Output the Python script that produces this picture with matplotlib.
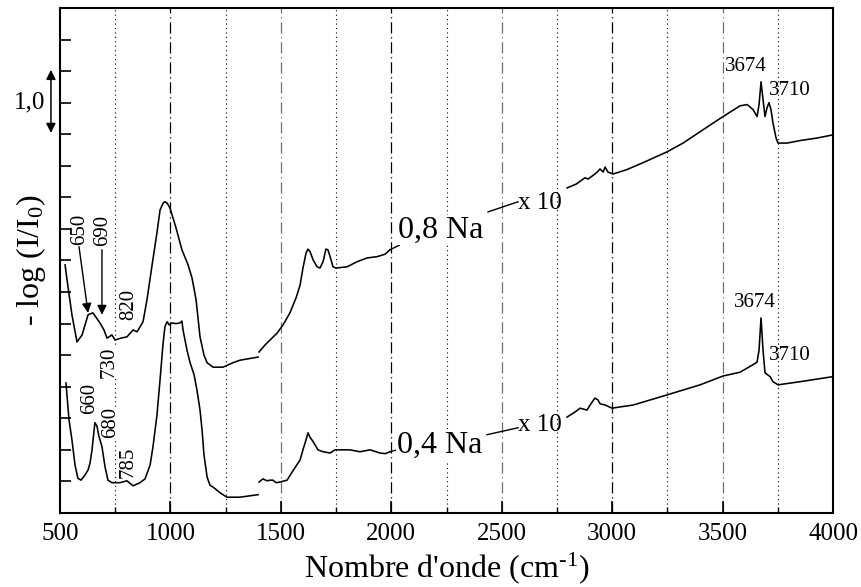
import numpy as np
import matplotlib
matplotlib.use('Agg')
import matplotlib.pyplot as plt

plt.rcParams['font.family'] = ['Liberation Serif', 'DejaVu Serif']
plt.rcParams['mathtext.fontset'] = 'custom'
plt.rcParams['mathtext.rm'] = 'Liberation Serif'
plt.rcParams['mathtext.it'] = 'Liberation Serif:italic'

# --- 0,8 Na (upper spectrum), three pieces ---
a1_x = [523, 532, 554, 577, 600, 627, 649, 681, 699, 713, 735, 749, 776, 803,
        831, 849, 876, 894, 917, 939, 953, 967, 975, 985, 998, 1025, 1052,
        1080, 1098, 1116, 1134, 1152, 1166, 1193, 1238, 1283, 1315, 1397]
a1_y = [3.93, 3.69, 3.14, 2.71, 2.82, 3.14, 3.17, 3.01, 2.90, 2.77, 2.82,
        2.74, 2.77, 2.79, 2.90, 2.87, 3.03, 3.38, 3.93, 4.44, 4.80, 4.91,
        4.93, 4.91, 4.83, 4.52, 4.17, 3.93, 3.72, 3.38, 2.79, 2.50, 2.38,
        2.31, 2.31, 2.38, 2.42, 2.47]
a2_x = [1401, 1428, 1451, 1483, 1510, 1541, 1569, 1587, 1600, 1614, 1623,
        1632, 1646, 1664, 1677, 1691, 1704, 1713, 1723, 1736, 1750, 1800,
        1845, 1890, 1935, 1972, 1994]
a2_y = [2.55, 2.66, 2.74, 2.85, 2.98, 3.17, 3.41, 3.61, 3.88, 4.12, 4.18,
        4.14, 4.01, 3.90, 3.88, 3.98, 4.18, 4.17, 4.06, 3.90, 3.88, 3.90,
        3.98, 4.04, 4.06, 4.10, 4.17]
a3_x = [2796, 2837, 2877, 2891, 2918, 2932, 2945, 2959, 2968, 2981, 3004,
        3067, 3140, 3248, 3321, 3398, 3502, 3579, 3611, 3638, 3656, 3665,
        3674, 3683, 3692, 3701, 3710, 3719, 3728, 3742, 3751, 3792, 3851,
        3928, 4000]
a3_y = [5.15, 5.21, 5.31, 5.29, 5.36, 5.40, 5.45, 5.40, 5.48, 5.40, 5.37,
        5.44, 5.55, 5.72, 5.86, 6.04, 6.28, 6.45, 6.47, 6.39, 6.28, 6.47,
        6.83, 6.55, 6.28, 6.42, 6.50, 6.39, 6.18, 5.94, 5.86, 5.86, 5.90,
        5.94, 5.99]

# --- 0,4 Na (lower spectrum) ---
b1_x = [527, 541, 554, 568, 581, 595, 613, 627, 636, 645, 658, 667, 676,
        690, 704, 717, 735, 772, 803, 831, 862, 885, 908, 921, 939, 953,
        966, 975, 985, 994, 1007, 1025, 1043, 1052, 1057, 1075, 1089, 1107,
        1120, 1134, 1143, 1152, 1166, 1179, 1193, 1225, 1256, 1315, 1397]
b1_y = [2.06, 1.47, 1.16, 0.76, 0.55, 0.52, 0.60, 0.68, 0.79, 1.00, 1.43,
        1.38, 1.22, 1.05, 0.73, 0.52, 0.48, 0.48, 0.51, 0.43, 0.48, 0.54,
        0.76, 1.05, 1.55, 2.11, 2.66, 2.95, 3.03, 2.98, 3.01, 3.00, 3.01,
        3.04, 2.90, 2.58, 2.38, 2.19, 1.95, 1.63, 1.32, 0.92, 0.57, 0.44,
        0.41, 0.32, 0.25, 0.25, 0.29]
b2_x = [1401, 1419, 1437, 1451, 1464, 1478, 1496, 1528, 1555, 1587, 1600,
        1614, 1623, 1632, 1646, 1668, 1691, 1723, 1745, 1768, 1813, 1858,
        1904, 1949, 1972, 1994]
b2_y = [0.49, 0.54, 0.51, 0.52, 0.52, 0.48, 0.49, 0.52, 0.67, 0.84, 1.00,
        1.16, 1.27, 1.20, 1.13, 1.00, 0.97, 0.95, 1.00, 1.00, 1.00, 0.97,
        1.00, 0.95, 0.94, 0.97]
b3_x = [2796, 2832, 2855, 2886, 2900, 2922, 2936, 2945, 2968, 3000, 3036,
        3095, 3248, 3398, 3502, 3579, 3638, 3656, 3665, 3674, 3683, 3692,
        3715, 3728, 3751, 3851, 4000]
b3_y = [1.52, 1.60, 1.66, 1.63, 1.71, 1.82, 1.79, 1.73, 1.71, 1.66, 1.68,
        1.71, 1.87, 2.03, 2.17, 2.23, 2.35, 2.39, 2.58, 3.09, 2.58, 2.22,
        2.16, 2.08, 2.03, 2.08, 2.16]

# band labels (text, x, y)
lab_small = [('650', 591, 4.50), ('690', 695, 4.48), ('820', 812, 3.31),
             ('730', 722, 2.38), ('660', 636, 1.82), ('680', 731, 1.43),
             ('785', 808, 0.81)]
lab_oh = [('3674', 3606, 7.08), ('3710', 3805, 6.70),
          ('3674', 3647, 3.34), ('3710', 3805, 2.49)]

dotted_x = [750, 1250, 1750, 2250, 2750, 3250, 3750]
dashdot_black = [1000, 2000, 3000]
dashdot_grey = [1500, 2500, 3500]

fig = plt.figure(figsize=(8.62, 5.87), dpi=100)
ax = fig.add_axes([0.0696, 0.1261, 0.8968, 0.8603])

for xv in dotted_x:
    ax.axvline(xv, color='k', lw=0.8, ls=(0, (1, 3)), zorder=0)
for xv in dashdot_black:
    ax.axvline(xv, color='k', lw=0.9, ls=(0, (9, 3, 1, 3)), zorder=0)
for xv in dashdot_grey:
    ax.axvline(xv, color='#707070', lw=0.9, ls=(0, (9, 3, 1, 3)), zorder=0)

for xs, ys in [(a1_x, a1_y), (a2_x, a2_y), (a3_x, a3_y),
               (b1_x, b1_y), (b2_x, b2_y), (b3_x, b3_y)]:
    ax.plot(xs, ys, color='k', lw=1.15, zorder=3)

# leader lines to the sample labels
ax.plot([1994, 2035], [4.17, 4.24], color='k', lw=1.0)
ax.plot([2438, 2574], [4.77, 4.93], color='k', lw=1.0)
ax.plot([1994, 2026], [0.97, 1.00], color='k', lw=1.0)
ax.plot([2433, 2574], [1.24, 1.35], color='k', lw=1.0)

bb = dict(facecolor='white', edgecolor='none', pad=0.5)
ax.text(2030, 4.36, '0,8 Na', fontsize=23, ha='left', va='baseline', bbox=bb, zorder=2)
ax.text(2026, 0.95, '0,4 Na', fontsize=23, ha='left', va='baseline', bbox=bb, zorder=2)
ax.text(2574, 4.82, 'x 10', fontsize=18, ha='left', va='baseline')
ax.text(2574, 1.30, 'x 10', fontsize=18, ha='left', va='baseline')

for t, xv, yv in lab_small:
    ax.text(xv, yv, t, fontsize=15, rotation=90, ha='center', va='center',
            bbox=dict(facecolor='white', edgecolor='none', pad=0.3), zorder=2)
for t, xv, yv in lab_oh:
    ax.text(xv, yv, t, fontsize=15, ha='center', va='center')

ax.annotate('', xy=(627, 3.17), xytext=(586, 4.22),
            arrowprops=dict(arrowstyle='-|>', color='k', lw=1.0,
                            mutation_scale=14, shrinkA=0, shrinkB=0))
ax.annotate('', xy=(690, 3.14), xytext=(690, 4.17),
            arrowprops=dict(arrowstyle='-|>', color='k', lw=1.0,
                            mutation_scale=14, shrinkA=0, shrinkB=0))

# scale bar 1,0
ax.annotate('', xy=(459, 6.02), xytext=(459, 7.02), annotation_clip=False,
            arrowprops=dict(arrowstyle='<|-|>', color='k', lw=1.1,
                            mutation_scale=14, shrinkA=0, shrinkB=0))
ax.text(360, 6.51, '1,0', fontsize=18, ha='center', va='center', clip_on=False)

ax.set_xlim(500, 4000)
ax.set_ylim(0, 8)
ax.set_xticks(np.arange(500, 4001, 500))
ax.set_xticks(np.arange(750, 4000, 500), minor=True)
ax.set_yticks(np.arange(0.5, 8, 0.5))
ax.set_yticklabels([])
ax.tick_params(axis='x', which='major', direction='in', length=9, width=1.2,
               labelsize=18, pad=7, top=False)
ax.tick_params(axis='x', which='minor', direction='in', length=4, width=1.0, top=False)
ax.tick_params(axis='y', which='major', direction='in', length=8, width=1.2, right=False)
for s in ax.spines.values():
    s.set_linewidth(1.5)

ax.set_xlabel("Nombre d'onde (cm$^{\\text{-1}}$)", fontsize=23, labelpad=4)
ax.set_ylabel('- log (I/I$_{\\mathregular{0}}$)', fontsize=23, labelpad=5)

fig.savefig('out.png', dpi=100)
